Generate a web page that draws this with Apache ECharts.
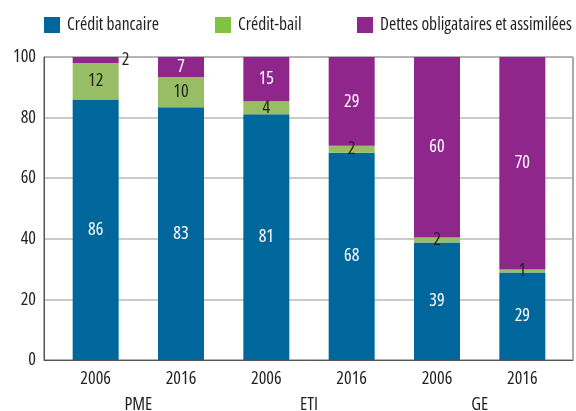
<!DOCTYPE html>
<html>
<head>
<meta charset="utf-8">
<script src="https://cdn.jsdelivr.net/npm/echarts@6/dist/echarts.min.js"></script>
<style>
  html, body { margin: 0; padding: 0; background: #fff; }
  #chart { width: 576px; height: 411px; }
</style>
</head>
<body>
<div id="chart"></div>
<script>
// valeurs (en %)
const years = ['2006', '2016', '2006', '2016', '2006', '2016'];
const groups = ['PME', 'ETI', 'GE'];
const creditBancaire = [86, 83.4, 81.1, 68.4, 38.8, 28.9];
const creditBail = [12, 10, 4.3, 2.3, 1.6, 1.0];
const dettes = [2, 6.6, 14.6, 29.3, 59.6, 70.1];
const yTicks = { min: 0, max: 100, interval: 20 };

// police étroite : Open Sans en largeur condensée (font-stretch passé dans le raccourci font)
const FONT = "'Open Sans', sans-serif";
const STRETCH = 'condensed';
const BLUE = '#00679c';
const GREEN = '#97be64';
const GREEN_LEGEND = '#80c342';
const PURPLE = '#8e268c';
const TXT = '#231f20';

const chart = echarts.init(document.getElementById('chart'), null, { renderer: 'canvas' });

function txt(size, color) {
	return { fontFamily: FONT, fontStyle: STRETCH, fontSize: size, color: color };
}

// petits segments de dettes : étiquette à droite de la barre
function dettesItems() {
	return dettes.map(v => v < 3
		? { value: v, label: { position: 'right', distance: 3, color: TXT } }
		: v);
}

function barSeries(name, data, color, labelColor) {
	return {
		name: name,
		type: 'bar',
		stack: 'total',
		xAxisIndex: 1,
		yAxisIndex: 1,
		barWidth: 46,
		data: data,
		itemStyle: { color: color },
		label: Object.assign({
			show: true,
			position: 'inside',
			formatter: p => Math.round(p.value)
		}, txt(18, labelColor)),
		emphasis: { disabled: true }
	};
}

const legendNames = ['Crédit bancaire', 'Crédit-bail', 'Dettes obligataires et assimilées'];
const legendColors = [BLUE, GREEN_LEGEND, PURPLE];
const legendX = [44, 215, 357];

chart.setOption({
	animation: false,
	legend: legendNames.map((n, i) => ({
		data: [{ name: n, itemStyle: { color: legendColors[i] } }],
		left: legendX[i],
		top: 16,
		padding: 0,
		icon: 'rect',
		itemWidth: 16,
		itemHeight: 16,
		selectedMode: false,
		textStyle: Object.assign(txt(17.5, TXT), { padding: [0, 0, 0, 2] })
	})),
	grid: [
		// cadre + graduations
		{ left: 44, right: 3, top: 57, bottom: 51, outerBoundsMode: 'none', show: true, borderColor: '#555', borderWidth: 1 },
		// barres
		{ left: 53, right: 11, top: 57, bottom: 51, outerBoundsMode: 'none' }
	],
	xAxis: [
		{
			gridIndex: 0, type: 'category', data: [''],
			axisLine: { lineStyle: { color: '#555', width: 1 } },
			axisTick: { show: false }, axisLabel: { show: false }
		},
		{
			gridIndex: 1, type: 'category', data: years,
			axisLine: { show: false }, axisTick: { show: false },
			axisLabel: Object.assign({ margin: 10 }, txt(18, TXT))
		},
		{
			gridIndex: 1, type: 'category', data: groups, position: 'bottom', offset: 22,
			axisLine: { show: false }, axisTick: { show: false },
			axisLabel: Object.assign({ margin: 14 }, txt(18, TXT))
		}
	],
	yAxis: [
		{
			gridIndex: 0, type: 'value', min: yTicks.min, max: yTicks.max, interval: yTicks.interval,
			axisLine: { show: true, lineStyle: { color: '#555', width: 1 } },
			axisTick: { show: false },
			splitLine: { lineStyle: { color: '#b8b8b8', width: 1.5 } },
			axisLabel: Object.assign({ margin: 8 }, txt(18, TXT))
		},
		{ gridIndex: 1, type: 'value', min: yTicks.min, max: yTicks.max, show: false }
	],
	series: [
		barSeries('Crédit bancaire', creditBancaire, BLUE, '#fff'),
		barSeries('Crédit-bail', creditBail, GREEN, TXT),
		barSeries('Dettes obligataires et assimilées', dettesItems(), PURPLE, '#fff')
	]
});
</script>
</body>
</html>
